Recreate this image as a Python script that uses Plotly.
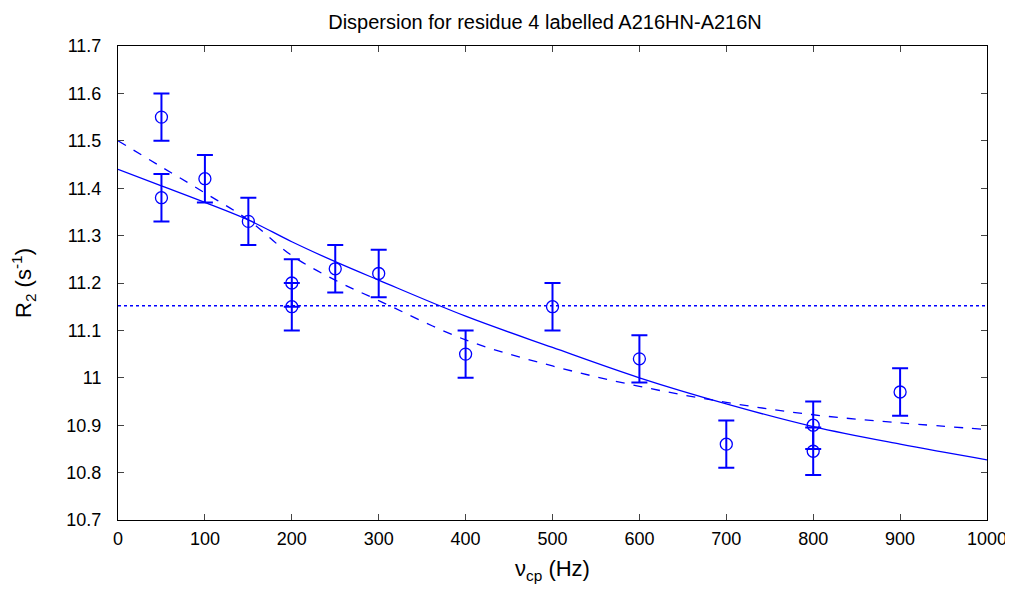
import plotly.graph_objects as go

# measured points
x_pts = [50, 50, 100, 150, 200, 200, 250, 300, 400, 500, 600, 700, 800, 800, 900]
y_pts = [11.55, 11.38, 11.42, 11.33, 11.20, 11.15, 11.23, 11.22, 11.05, 11.15, 11.04, 10.86, 10.90, 10.845, 10.97]
err_pts = [0.05] * 15

# fit curves
x_fit = [0, 50, 100, 150, 200, 250, 300, 400, 500, 600, 700, 800, 900, 1000]
y_solid = [11.44, 11.405, 11.37, 11.333, 11.287, 11.245, 11.206, 11.13, 11.064, 11.0, 10.945, 10.897, 10.86, 10.827]
y_dashed = [11.50, 11.445, 11.39, 11.333, 11.258, 11.206, 11.163, 11.08, 11.025, 10.982, 10.948, 10.922, 10.905, 10.891]
x_flat = [0, 1000]
y_flat = [11.152, 11.152]

title_text = "Dispersion for residue 4 labelled A216HN-A216N"
x_ticks = [0, 100, 200, 300, 400, 500, 600, 700, 800, 900, 1000]
y_ticks = [10.7, 10.8, 10.9, 11.0, 11.1, 11.2, 11.3, 11.4, 11.5, 11.6, 11.7]
y_ticktext = ["10.7", "10.8", "10.9", "11", "11.1", "11.2", "11.3", "11.4", "11.5", "11.6", "11.7"]

blue = "rgb(0,0,255)"
font_family = "Liberation Sans, Arial, sans-serif"

fig = go.Figure()
fig.add_trace(go.Scatter(x=x_flat, y=y_flat, mode="lines",
                         line=dict(color=blue, width=1.3, dash="dot"), showlegend=False))
fig.add_trace(go.Scatter(x=x_fit, y=y_dashed, mode="lines", line_shape="spline",
                         line=dict(color=blue, width=1.3, dash="dash"), showlegend=False))
fig.add_trace(go.Scatter(x=x_fit, y=y_solid, mode="lines", line_shape="spline",
                         line=dict(color=blue, width=1.3), showlegend=False))
fig.add_trace(go.Scatter(x=x_pts, y=y_pts, mode="markers",
                         marker=dict(symbol="circle-open", size=12, color=blue, line=dict(width=1.3)),
                         error_y=dict(type="data", array=err_pts, color=blue, thickness=2, width=8),
                         showlegend=False))

# page has an 8px body margin: figure is placed at (8,8)
fig.update_layout(
    width=1005, height=576,
    paper_bgcolor="white", plot_bgcolor="white",
    margin=dict(l=110, r=26, t=38, b=64),
    font=dict(family=font_family, size=18, color="black"),
    title=dict(text=title_text, x=537 / 1005, xanchor="center", y=0.9757, yanchor="middle",
               font=dict(family=font_family, size=20)),
    xaxis=dict(range=[0, 1000], tickvals=x_ticks, ticks="inside", ticklen=6,
               showline=True, linecolor="black", linewidth=1, mirror="ticks",
               showgrid=False, zeroline=False, ticklabelstandoff=2, ticklabeloverflow="allow",
               automargin=False,
               title=dict(text="ν<sub>cp</sub> (Hz)", standoff=14)),
    yaxis=dict(range=[10.7, 11.7], tickvals=y_ticks, ticktext=y_ticktext, ticks="inside", ticklen=6,
               showline=True, linecolor="black", linewidth=1, mirror="ticks",
               showgrid=False, zeroline=False, ticklabelstandoff=12, automargin=False,
               title=dict(text="R<sub>2</sub> (s<sup>-1</sup>)", standoff=28)),
)

fig.write_html("out.html")
